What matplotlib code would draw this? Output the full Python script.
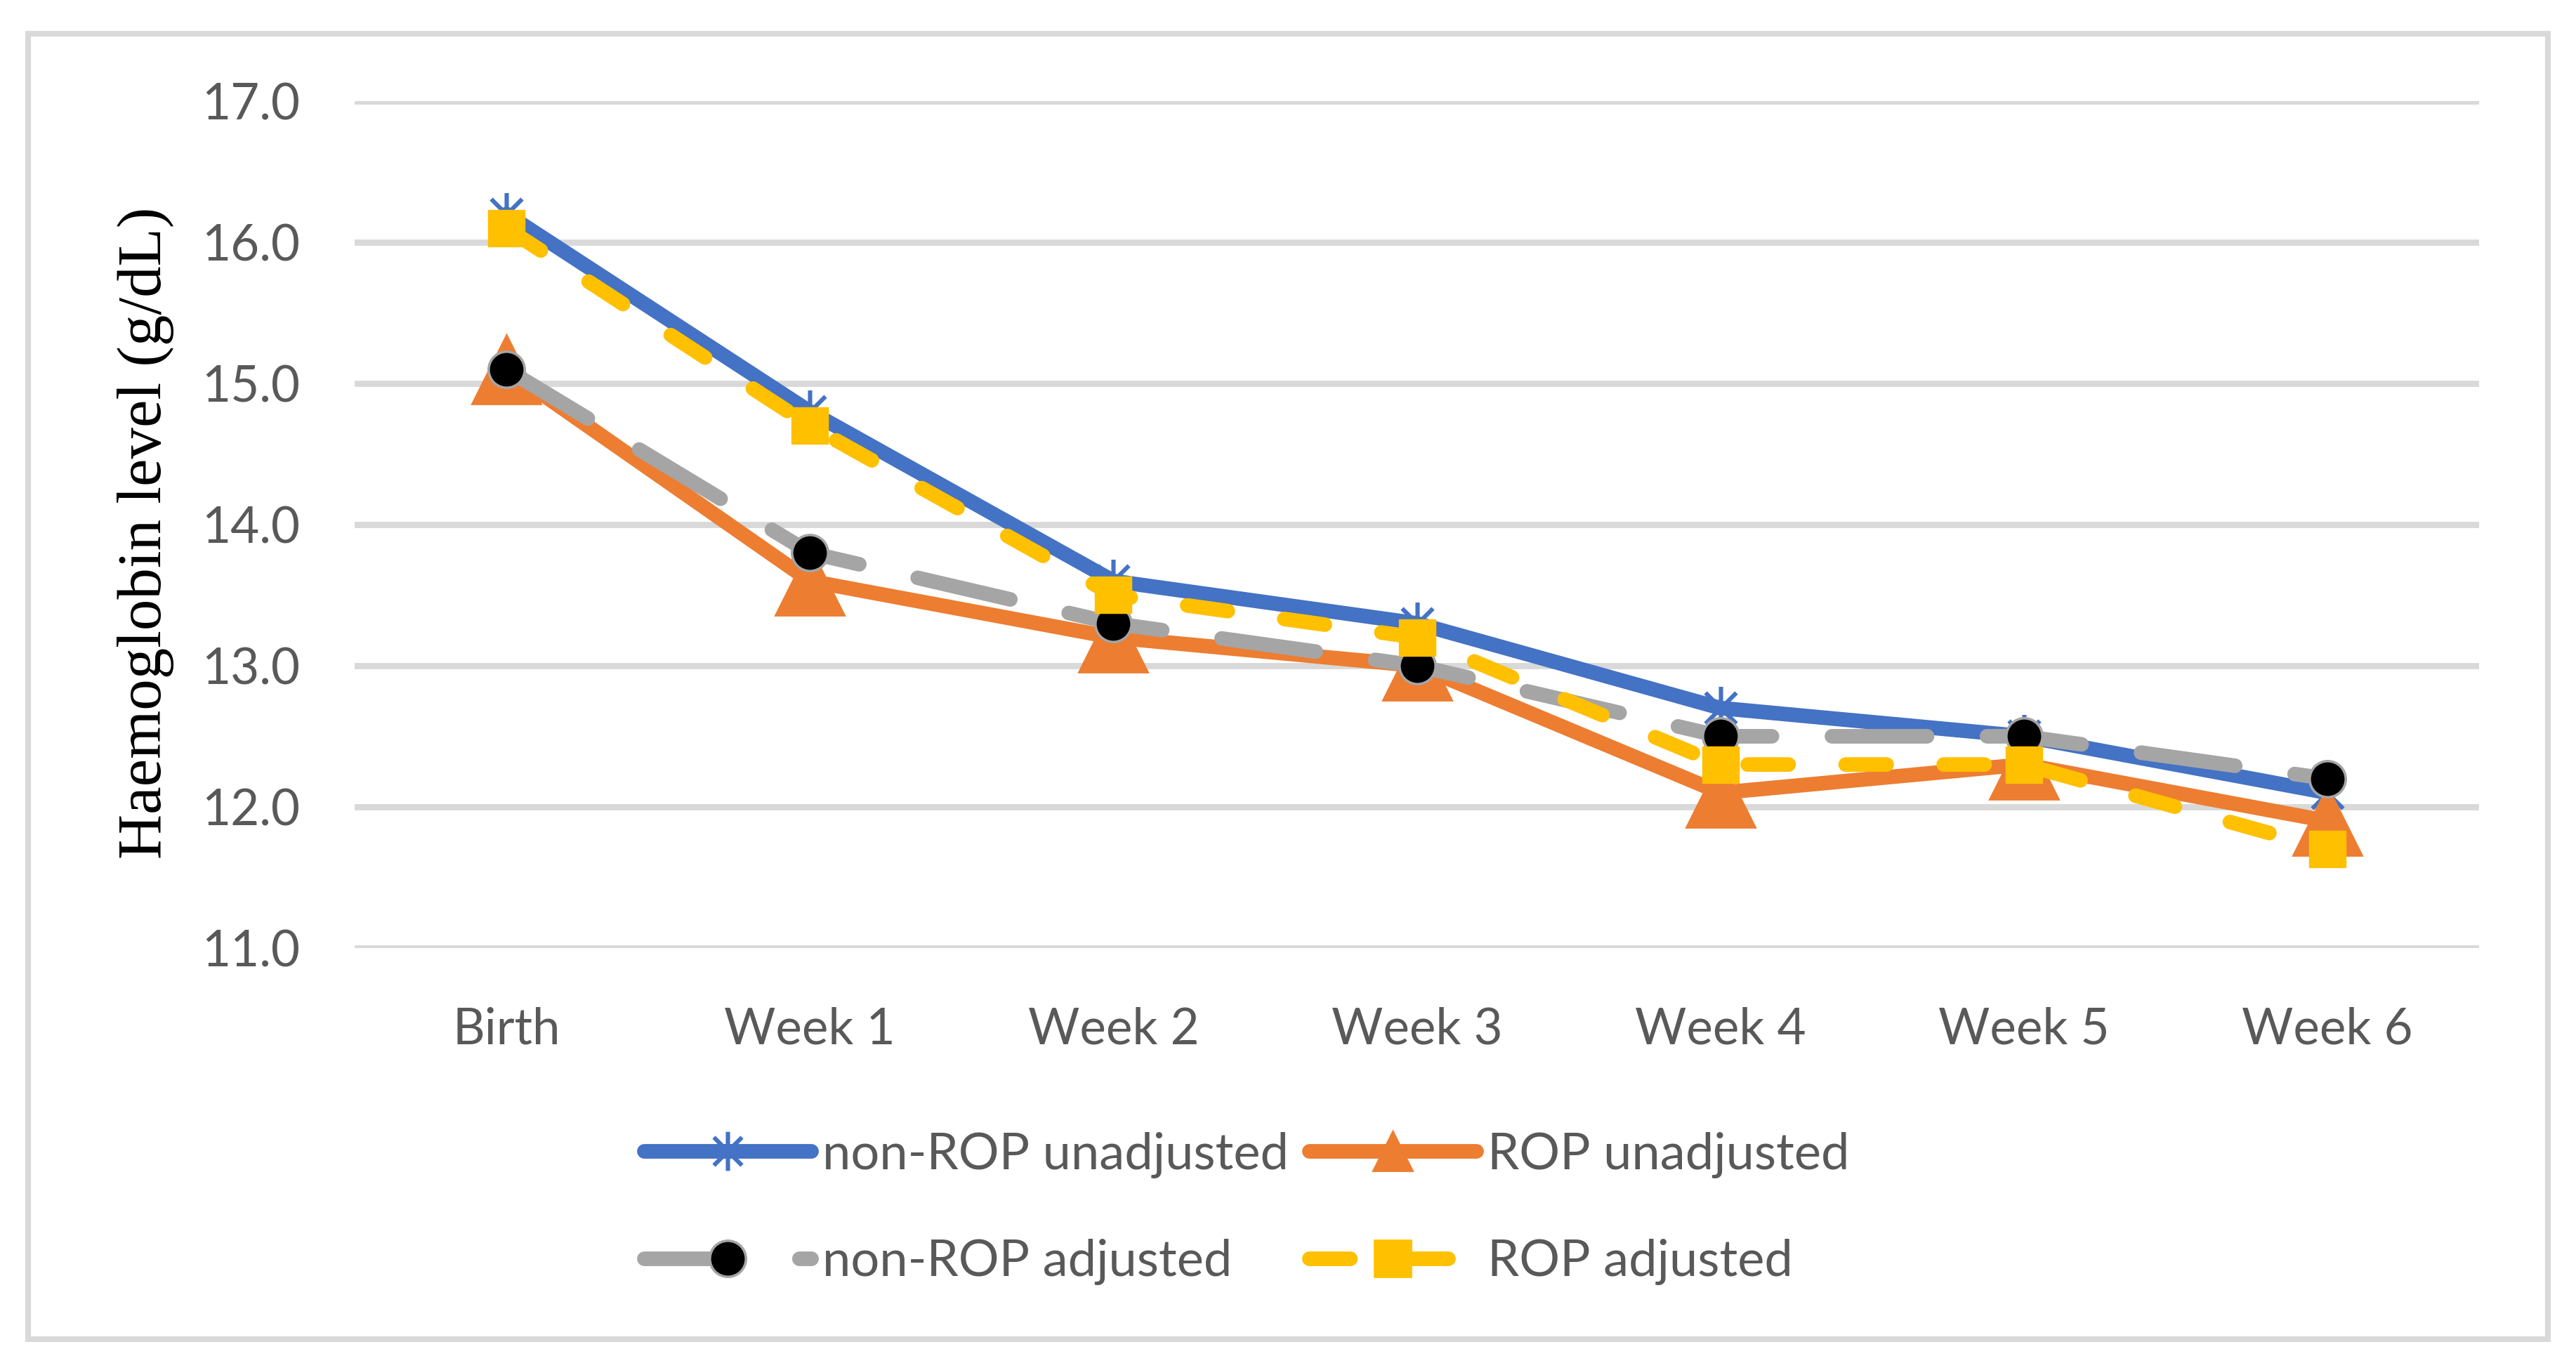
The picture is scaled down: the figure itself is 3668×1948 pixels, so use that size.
import numpy as np
import matplotlib.pyplot as plt
from matplotlib.path import Path
from matplotlib.lines import Line2D
from matplotlib.patches import Rectangle

# data (g/dL)
stages = ["Birth", "Week 1", "Week 2", "Week 3", "Week 4", "Week 5", "Week 6"]
non_rop_unadj = [16.2, 14.8, 13.6, 13.3, 12.7, 12.5, 12.1]
rop_unadj = [15.1, 13.6, 13.2, 13.0, 12.1, 12.3, 11.9]
non_rop_adj = [15.1, 13.8, 13.3, 13.0, 12.5, 12.5, 12.2]
rop_adj = [16.1, 14.7, 13.5, 13.2, 12.3, 12.3, 11.7]
yticks = [11.0, 12.0, 13.0, 14.0, 15.0, 16.0, 17.0]

blue = "#4472C4"
orange = "#ED7D31"
grey = "#A5A5A5"
yellow = "#FFC000"
txt = "#595959"
tickfont = "Lato"

# excel style star marker: vertical bar plus two diagonals
d = 0.72
star = Path([(0, -1), (0, 1), (-d, -d), (d, d), (-d, d), (d, -d)],
            [Path.MOVETO, Path.LINETO, Path.MOVETO, Path.LINETO, Path.MOVETO, Path.LINETO])

fig = plt.figure(figsize=(18.34, 9.74), dpi=200)
ax = fig.add_axes([0.1377, 0.3070, 0.8247, 0.6191])

x = np.arange(len(stages))
lw = 7.5

ax.plot(x, non_rop_unadj, color=blue, lw=lw, marker=star, ms=22, mec=blue, mew=2.2,
        mfc="none", solid_capstyle="round", zorder=3)
ax.plot(x, rop_unadj, color=orange, lw=lw, marker="^", ms=35, mec=orange, mfc=orange,
        solid_capstyle="round", zorder=4)
ax.plot(x, non_rop_adj, color=grey, lw=lw, ls=(0, (6.5, 4.1)), dash_capstyle="round",
        marker="o", ms=18.5, mfc="black", mec=grey, mew=1.3, zorder=5)
ax.plot(x, rop_adj, color=yellow, lw=lw, ls=(0, (2.8, 3.9)), dash_capstyle="round",
        marker="s", ms=18.5, mfc=yellow, mec=yellow, mew=0.5, zorder=6)

ax.set_xlim(-0.5, len(stages) - 0.5)
ax.set_ylim(11.0, 17.0)
ax.set_xticks(x)
ax.set_xticklabels(stages, fontsize=25.5, color=txt, family=tickfont)
ax.set_yticks(yticks)
ax.set_yticklabels(["%.1f" % v for v in yticks], fontsize=25.5, color=txt, family=tickfont)
ax.tick_params(length=0)
ax.tick_params(axis="y", pad=28)
ax.tick_params(axis="x", pad=30)
for s in ax.spines.values():
    s.set_visible(False)
ax.grid(axis="y", color="#D9D9D9", lw=3.2)
ax.set_axisbelow(True)

ax.set_ylabel("Haemoglobin level (g/dL)", family="Liberation Serif", fontsize=32, color="black")
ax.yaxis.set_label_coords(-0.085, 0.49)

# legend handles (smaller triangle than in the plot)
h_blue = Line2D([], [], color=blue, lw=lw, marker=star, ms=20, mec=blue, mew=2.2, mfc="none",
                solid_capstyle="round")
h_orange = Line2D([], [], color=orange, lw=lw, marker="^", ms=20, mec=orange, mfc=orange,
                  solid_capstyle="round")
h_grey = Line2D([], [], color=grey, lw=lw, ls=(0, (6.5, 4.1)), dash_capstyle="round",
                marker="o", ms=18.5, mfc="black", mec=grey, mew=1.3)
h_yellow = Line2D([], [], color=yellow, lw=lw, ls=(0, (2.8, 3.9)), dash_capstyle="round",
                  marker="s", ms=18.5, mfc=yellow, mec=yellow)
leg = fig.legend([h_blue, h_grey, h_orange, h_yellow],
                 ["non-ROP unadjusted", "non-ROP adjusted", "ROP unadjusted", "ROP adjusted"],
                 ncol=2, loc="center", bbox_to_anchor=(0.484, 0.1165), frameon=False,
                 prop={"family": tickfont, "size": 26}, handlelength=3.3, handletextpad=0.22,
                 columnspacing=0.4, labelspacing=1.2)
for t in leg.get_texts():
    t.set_color(txt)

fig.patches.append(Rectangle((0.0109, 0.0210), 0.9782, 0.9543, transform=fig.transFigure,
                             fill=False, edgecolor="#D9D9D9", lw=2.9))

fig.savefig("out.png", dpi=200, facecolor="white")
